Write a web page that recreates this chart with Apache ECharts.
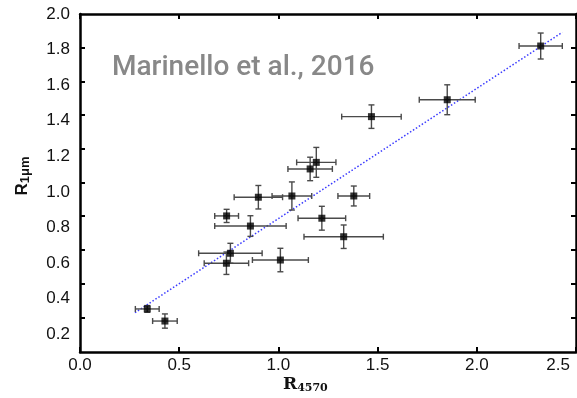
<!DOCTYPE html>
<html><head><meta charset="utf-8">
<script src="https://cdn.jsdelivr.net/npm/echarts@6.0.0/dist/echarts.min.js"></script>
<style>html,body{margin:0;padding:0;background:#fff}#c{width:577px;height:398px}</style>
</head><body><div id="c"></div>
<script>
// Data
const xVals = [0.339, 0.428, 0.738, 0.758, 0.739, 0.859, 0.899, 1.010, 1.068, 1.160, 1.191, 1.219, 1.329, 1.380, 1.469, 1.851, 2.322];
const yVals = [0.342, 0.274, 0.599, 0.655, 0.865, 0.808, 0.970, 0.617, 0.977, 1.129, 1.166, 0.852, 0.748, 0.977, 1.423, 1.518, 1.820];
const xErr  = [0.060, 0.062, 0.112, 0.160, 0.060, 0.180, 0.122, 0.141, 0.100, 0.112, 0.099, 0.120, 0.200, 0.080, 0.150, 0.141, 0.109];
const yErr  = [0.019, 0.040, 0.063, 0.056, 0.037, 0.058, 0.066, 0.066, 0.079, 0.066, 0.084, 0.067, 0.066, 0.056, 0.066, 0.084, 0.073];
const fitX = [0.277, 2.431];
const fitY = [0.321, 1.897];
const xTickLabels = ['0.0', '0.5', '1.0', '1.5', '2.0', '2.5'];
const yTickLabels = ['0.2', '0.4', '0.6', '0.8', '1.0', '1.2', '1.4', '1.6', '1.8', '2.0'];
const yTickMarks = [0.295, 0.485, 0.674, 0.864, 1.053, 1.242, 1.432, 1.621, 1.811];
const annotation = 'Marinello et al., 2016';

const chart = echarts.init(document.getElementById('c'), null, {renderer: 'canvas'});
const axisLineStyle = {color: '#000', width: 2.5};
const tickStyle = {color: '#000', width: 2};
const lastX = xTickLabels[xTickLabels.length - 1];

const option = {
  animation: false,
  backgroundColor: '#fff',
  grid: {left: 80, right: 1, top: 14, bottom: 46},
  xAxis: [{
    type: 'value', position: 'bottom', min: 0, max: 2.5, interval: 0.5,
    axisLine: {show: true, onZero: false, lineStyle: axisLineStyle},
    axisTick: {show: true, inside: true, length: 5, lineStyle: tickStyle},
    axisLabel: {
      customValues: xTickLabels.map(Number),
      formatter: v => {
        const s = xTickLabels.find(t => Number(t) === v) || v.toFixed(1);
        return s === lastX ? '{m|' + s + '}' : s;
      },
      rich: {m: {fontFamily: 'Liberation Sans', fontSize: 17, color: '#111', padding: [0, 6, 0, 0]}},
      fontFamily: 'Liberation Sans', fontSize: 17, color: '#111', margin: 5,
      alignMaxLabel: 'right'
    },
    splitLine: {show: false}
  }, {
    type: 'value', position: 'top', min: 0, max: 2.5, interval: 0.5,
    axisLine: {show: true, onZero: false, lineStyle: axisLineStyle},
    axisTick: {show: true, inside: true, length: 5, lineStyle: tickStyle},
    axisLabel: {show: false},
    splitLine: {show: false}
  }],
  yAxis: [{
    type: 'value', position: 'left', min: 0.1, max: 2.0,
    axisLine: {show: true, onZero: false, lineStyle: axisLineStyle},
    axisTick: {show: true, inside: true, length: 5, lineStyle: tickStyle, customValues: yTickMarks},
    axisLabel: {
      customValues: yTickLabels.map(Number),
      formatter: v => v.toFixed(1),
      fontFamily: 'Liberation Sans', fontSize: 17, color: '#111', margin: 10
    },
    splitLine: {show: false}
  }, {
    type: 'value', position: 'right', min: 0.1, max: 2.0,
    axisLine: {show: true, onZero: false, lineStyle: axisLineStyle},
    axisTick: {show: true, inside: true, length: 5, lineStyle: tickStyle, customValues: yTickMarks},
    axisLabel: {show: false},
    splitLine: {show: false}
  }],
  series: [{
    type: 'line',
    data: fitX.map((x, i) => [x, fitY[i]]),
    symbol: 'none',
    lineStyle: {type: [1.5, 2], color: '#3a3aff', width: 1.5},
    z: 1
  }, {
    type: 'custom',
    data: xVals.map((x, i) => [x, yVals[i], xErr[i], yErr[i]]),
    encode: {x: 0, y: 1},
    renderItem: (params, api) => {
      const x = api.value(0), y = api.value(1), ex = api.value(2), ey = api.value(3);
      const c = api.coord([x, y]);
      const l = api.coord([x - ex, y]), r = api.coord([x + ex, y]);
      const t = api.coord([x, y + ey]), b = api.coord([x, y - ey]);
      const cap = 3;
      const style = {stroke: '#4a4a4a', lineWidth: 1.4};
      return {type: 'group', children: [
        {type: 'line', shape: {x1: l[0], y1: c[1], x2: r[0], y2: c[1]}, style},
        {type: 'line', shape: {x1: l[0], y1: c[1] - cap, x2: l[0], y2: c[1] + cap}, style},
        {type: 'line', shape: {x1: r[0], y1: c[1] - cap, x2: r[0], y2: c[1] + cap}, style},
        {type: 'line', shape: {x1: c[0], y1: t[1], x2: c[0], y2: b[1]}, style},
        {type: 'line', shape: {x1: c[0] - cap, y1: t[1], x2: c[0] + cap, y2: t[1]}, style},
        {type: 'line', shape: {x1: c[0] - cap, y1: b[1], x2: c[0] + cap, y2: b[1]}, style}
      ]};
    },
    z: 2
  }, {
    type: 'scatter',
    data: xVals.map((x, i) => [x, yVals[i]]),
    symbol: 'rect', symbolSize: 7,
    itemStyle: {color: '#000'},
    z: 3
  }],
  graphic: [{
    type: 'text', x: 112, y: 68,
    style: {text: annotation, font: '500 28px Roboto', fill: '#888', textVerticalAlign: 'middle'}
  }, {
    type: 'text', x: 22, y: 176, rotation: Math.PI / 2,
    style: {
      text: '{r|R}{s|1μm}', textAlign: 'center', textVerticalAlign: 'middle',
      rich: {
        r: {fontSize: 17, fontWeight: 'bold', fontFamily: 'Liberation Sans', fill: '#111'},
        s: {fontSize: 13, fontWeight: 'bold', fontFamily: 'Liberation Sans', fill: '#111', padding: [7, 0, 0, 0]}
      }
    }
  }, {
    type: 'text', x: 283, y: 385,
    style: {
      text: '{r|R}{s|4570}', textVerticalAlign: 'middle',
      rich: {
        r: {fontSize: 17, fontWeight: 'bold', fontFamily: 'DejaVu Serif', fill: '#111'},
        s: {fontSize: 11, fontWeight: 'bold', fontFamily: 'DejaVu Serif', fill: '#111', padding: [6, 0, 0, 0]}
      }
    }
  }]
};
chart.setOption(option);
</script>
</body></html>
